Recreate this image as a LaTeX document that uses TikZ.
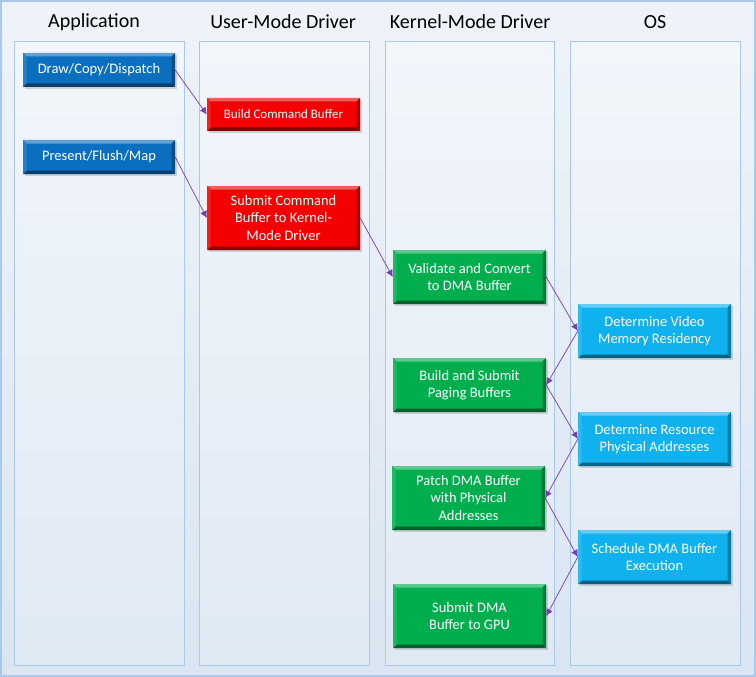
\documentclass[tikz,border=0pt]{standalone}
\usepackage{fontspec}
\setmainfont{Carlito}
\usepackage{xcolor}
\usetikzlibrary{arrows.meta,shadows}
\definecolor{appColor}{HTML}{0A6FBF}
\definecolor{umdColor}{HTML}{F50000}
\definecolor{kmdColor}{HTML}{00AE4E}
\definecolor{osColor}{HTML}{0FB2EE}
\definecolor{flowColor}{HTML}{7A3BAE}
\definecolor{laneLine}{HTML}{A9C8EA}
\definecolor{laneTop}{HTML}{F2F6FB}
\definecolor{laneBottom}{HTML}{DFE9F4}
\definecolor{bgTop}{HTML}{EEF3F9}
\definecolor{bgBottom}{HTML}{DAE5F1}

\begin{document}
\begin{tikzpicture}[x=1pt,y=-1pt,
lane/.style={draw=laneLine,line width=1pt,top color=laneTop,bottom color=laneBottom},
laneTitle/.style={font=\fontsize{20}{24}\selectfont,text=black},
bevelBox/.style={rectangle,fill=#1,text=white,align=center,inner sep=0pt,
    minimum width=153pt,minimum height=54pt,font=\fontsize{14.5}{17.5}\selectfont,
    drop shadow={opacity=0.3,shadow xshift=1.5pt,shadow yshift=-2pt},
    path picture={
      \path (path picture bounding box.south west) coordinate (sw)
            (path picture bounding box.north east) coordinate (ne)
            ([shift={(3.5pt,3.5pt)}]sw) coordinate (isw)
            ([shift={(-3.5pt,-3.5pt)}]ne) coordinate (ine);
      \fill[#1!65!white] (sw |- ne) -- (ne) -- (ine) -- (isw |- ine) -- cycle;
      \fill[#1!55!black] (sw) -- (ne |- sw) -- (ine |- isw) -- (isw) -- cycle;
      \fill[#1!88!white] (sw) -- (sw |- ne) -- (isw |- ine) -- (isw) -- cycle;
      \fill[#1!70!black] (ne) -- (ne |- sw) -- (ine |- isw) -- (ine) -- cycle;
    }},
appBox/.style={bevelBox=appColor,minimum width=152pt,minimum height=34pt},
umdBox/.style={bevelBox=umdColor},
kmdBox/.style={bevelBox=kmdColor},
osBox/.style={bevelBox=osColor},
flow/.style={draw=flowColor,line width=0.7pt,-{Latex[length=7pt,width=7pt]}}
]
\useasboundingbox (0,0) rectangle (756,677);
\fill[top color=bgTop,bottom color=bgBottom] (0,0) rectangle (756,677);
\draw[laneLine,line width=2pt] (1,1) rectangle (755,676);
% swim lanes
\draw[lane] (14,42) rectangle (184,665);
\draw[lane] (199,42) rectangle (369,665);
\draw[lane] (385,42) rectangle (554,665);
\draw[lane] (570,42) rectangle (740,665);
\node[laneTitle] (tApp) at (94,22) {Application};
\node[laneTitle] (tUmd) at (283,22) {User-Mode Driver};
\node[laneTitle] (tKmd) at (470,22) {Kernel-Mode Driver};
\node[laneTitle] (tOs) at (655,22) {OS};
% steps
\node[appBox] (appDraw) at (99,70) {Draw/Copy/Dispatch};
\node[appBox] (appPresent) at (99,157) {Present/Flush/Map};
\node[umdBox,minimum height=33pt,font=\fontsize{13}{16}\selectfont] (umdBuild) at (283.5,114.5) {Build Command Buffer};
\node[umdBox,minimum height=64pt] (umdSubmit) at (283.5,218) {Submit Command\\Buffer to Kernel-\\Mode Driver};
\node[kmdBox] (kmdValidate) at (469.5,277) {Validate and Convert\\to DMA Buffer};
\node[osBox] (osVideo) at (654.5,331) {Determine Video\\Memory Residency};
\node[kmdBox] (kmdPaging) at (469.5,385) {Build and Submit\\Paging Buffers};
\node[osBox] (osResource) at (654.5,439) {Determine Resource\\Physical Addresses};
\node[kmdBox,minimum height=64pt] (kmdPatch) at (468.5,498) {Patch DMA Buffer\\with Physical\\Addresses};
\node[osBox] (osSchedule) at (654.5,557) {Schedule DMA Buffer\\Execution};
\node[kmdBox,minimum height=64pt] (kmdGpu) at (469.5,616) {Submit DMA\\Buffer to GPU};
% flow
\draw[flow] (appDraw.east) -- (umdBuild.west);
\draw[flow] (appPresent.east) -- (umdSubmit.west);
\draw[flow] (umdSubmit.east) -- (kmdValidate.west);
\draw[flow] (kmdValidate.east) -- (osVideo.west);
\draw[flow] (osVideo.west) -- (kmdPaging.east);
\draw[flow] (kmdPaging.east) -- (osResource.west);
\draw[flow] (osResource.west) -- (kmdPatch.east);
\draw[flow] (kmdPatch.east) -- (osSchedule.west);
\draw[flow] (osSchedule.west) -- (kmdGpu.east);
\end{tikzpicture}
\end{document}
